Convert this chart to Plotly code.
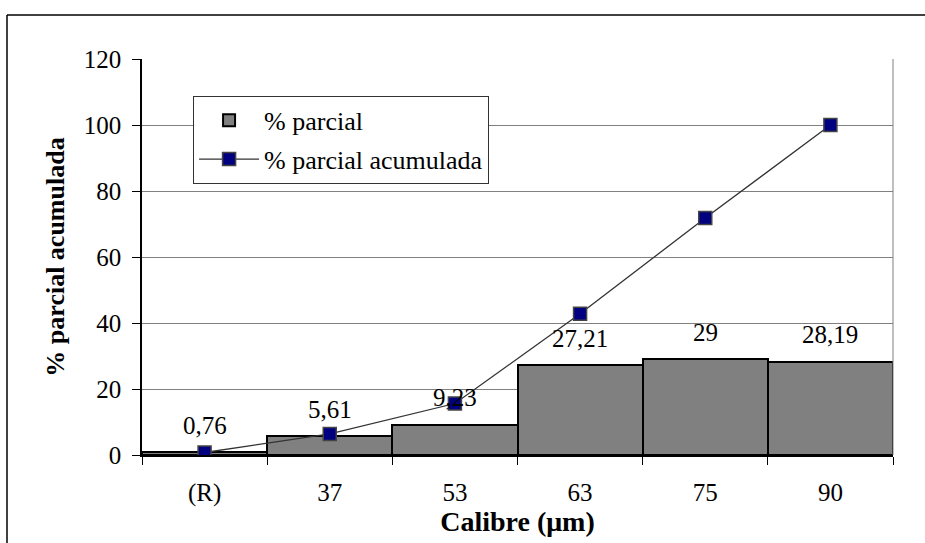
import plotly.graph_objects as go

categories = ["(R)", "37", "53", "63", "75", "90"]
parcial = [0.76, 5.61, 9.23, 27.21, 29, 28.19]
acumulada = [0.76, 6.37, 15.6, 42.81, 71.81, 100]
labels = ["0,76", "5,61", "9,23", "27,21", "29", "28,19"]
y_ticks = [0, 20, 40, 60, 80, 100, 120]

FONT = "Liberation Serif"

fig = go.Figure()
fig.add_trace(go.Bar(
    x=categories, y=parcial, name="% parcial",
    marker=dict(color="#808080", line=dict(color="black", width=2)),
    width=1.0, legendgroup="a",
))
fig.add_trace(go.Scatter(
    x=categories, y=acumulada, name="% parcial acumulada", mode="lines+markers",
    line=dict(color="#333333", width=1.3),
    marker=dict(symbol="square", size=13, color="#000080", line=dict(color="#444444", width=1.5)),
    legendgroup="b",
))

for i, (v, t) in enumerate(zip(parcial, labels)):
    fig.add_annotation(x=i, y=v, text=t, showarrow=False, yshift=27,
                       font=dict(family=FONT, size=25, color="black"))

fig.update_layout(
    width=925, height=543,
    margin=dict(l=142, r=32, t=59, b=88),
    plot_bgcolor="white", paper_bgcolor="white",
    font=dict(family=FONT, size=25, color="black"),
    bargap=0,
    showlegend=True,
    legend=dict(
        x=0.068, y=0.907, xanchor="left", yanchor="top",
        bgcolor="white", bordercolor="#333333", borderwidth=1,
        font=dict(family=FONT, size=26, color="black"),
        traceorder="grouped", tracegroupgap=2,
        itemwidth=60,
    ),
    xaxis=dict(
        type="category",
        title=dict(text="<b>Calibre (μm)</b>", font=dict(family=FONT, size=28), standoff=2),
        showline=True, linecolor="black", linewidth=2,
        ticks="outside", ticklen=8, tickcolor="black", tickwidth=1,
        tickson="boundaries", ticklabelstandoff=14,
        showgrid=False, range=[-0.5, 5.5],
        tickfont=dict(family=FONT, size=25),
    ),
    yaxis=dict(
        title=dict(text="<b>% parcial acumulada</b>", font=dict(family=FONT, size=26), standoff=12),
        range=[0, 120], tickvals=y_ticks,
        showline=True, linecolor="black", linewidth=1.5,
        ticks="outside", ticklen=8, tickcolor="black", tickwidth=1,
        ticklabelstandoff=6,
        showgrid=True, gridcolor="#808080", gridwidth=1,
        zeroline=False,
        tickfont=dict(family=FONT, size=25),
    ),
    shapes=[
        dict(type="line", xref="paper", yref="paper", x0=1, x1=1, y0=0, y1=1,
             line=dict(color="#808080", width=1)),
        dict(type="line", xref="paper", yref="paper",
             x0=(7 - 142) / 751, x1=(935 - 142) / 751,
             y0=(455 - 15) / 396, y1=(455 - 15) / 396,
             line=dict(color="black", width=1.5)),
        dict(type="line", xref="paper", yref="paper",
             x0=(7 - 142) / 751, x1=(7 - 142) / 751,
             y0=(455 - 15) / 396, y1=(455 - 560) / 396,
             line=dict(color="black", width=1.5)),
    ],
)

fig.write_html("out.html")
